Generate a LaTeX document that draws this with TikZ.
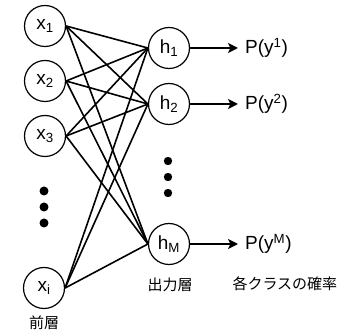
\documentclass[tikz,border=0pt]{standalone}
\usepackage{fontspec}
\setmainfont{Liberation Sans}
\newfontfamily\jpfont{Noto Sans CJK JP}
\usetikzlibrary{arrows.meta,positioning}

\begin{document}
\begin{tikzpicture}[x=1pt,y=-1pt,
  unit/.style={circle,draw,line width=1.2pt,minimum size=41pt,inner sep=0pt,
    font=\fontsize{19}{22}\selectfont},
  link/.style={line width=1.6pt},
  outarrow/.style={line width=1.6pt,-{Stealth[length=10pt,width=10pt,inset=2.5pt]}},
  prob/.style={anchor=west,inner xsep=7pt,font=\fontsize{19}{22}\selectfont},
  jplabel/.style={font=\jpfont\fontsize{15}{18}\selectfont}]
\useasboundingbox (0,0) rectangle (338,334);
%% previous layer
\node[unit] (x1) at (45,26) {x\textsubscript{1}};
\node[unit] (x2) at (45,81) {x\textsubscript{2}};
\node[unit] (x3) at (45,136) {x\textsubscript{3}};
\node[unit] (xi) at (44,288) {x\textsubscript{i}};
%% output layer
\node[unit] (h1) at (169,48) {h\textsubscript{1}};
\node[unit] (h2) at (169,104) {h\textsubscript{2}};
\node[unit] (hM) at (169,244) {h\textsubscript{M}};
%% dots
\fill (44,191) circle (4.5pt) (44,207) circle (4.5pt) (44,223) circle (4.5pt);
\fill (168,161) circle (4.2pt) (168,177) circle (4.2pt) (168,193) circle (4.2pt);
%% full connections
\foreach \i in {x1,x2,x3,xi}
  \foreach \j in {h1,h2,hM}
    \draw[link] (\i.east) -- (\j.west);
%% probabilities
\node[prob] (p1) at (238,48) {P(y\textsuperscript{1})};
\node[prob] (p2) at (238,104) {P(y\textsuperscript{2})};
\node[prob] (pM) at (238,244) {P(y\textsuperscript{M})};
\draw[outarrow] (h1) -- (p1.west);
\draw[outarrow] (h2) -- (p2.west);
\draw[outarrow] (hM) -- (pM.west);
%% captions
\node[jplabel] (inlayer) at (44,323) {前層};
\node[jplabel] (outlayer) at (170,285) {出力層};
\node[jplabel,anchor=west] (classprob) at (229,284) {各クラスの確率};
\end{tikzpicture}
\end{document}
